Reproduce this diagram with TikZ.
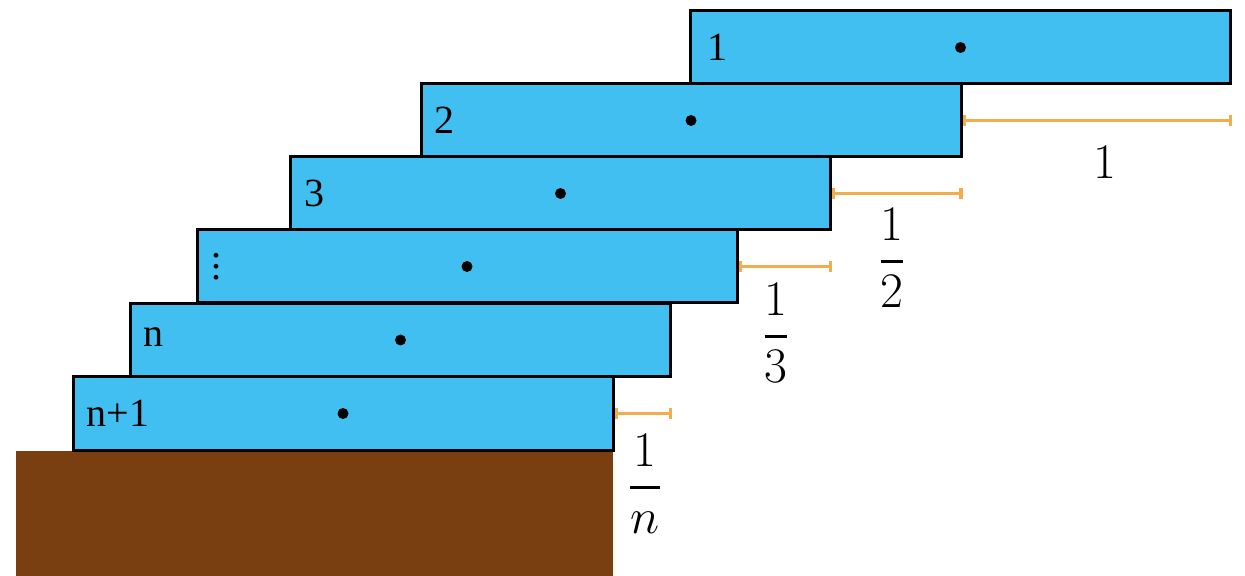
\documentclass[tikz,border=0pt]{standalone}
\usepackage{amsmath}
\usepackage{fontspec}
\setmainfont{Liberation Serif}
\usetikzlibrary{positioning, arrows.meta}
\definecolor{blockblue}{HTML}{41BFF0}
\definecolor{gapgold}{HTML}{F2AE4E}
\definecolor{soilbrown}{HTML}{7A3F10}
\newcommand{\thickfrac}[2]{\genfrac{}{}{1.8pt}{0}{#1}{#2}}
\newcommand{\stackdots}{\vbox{\baselineskip5.5pt\lineskiplimit0pt
  \hbox{.}\hbox{.}\hbox{.}}}

\begin{document}
\begin{tikzpicture}[x=0.5pt, y=-0.5pt, font=\fontsize{20}{24}\selectfont,
  plank/.style={rectangle, draw=black, line width=1.5pt, fill=blockblue,
                minimum width=270pt, minimum height=36.5pt, inner sep=0pt},
  cog/.style={circle, fill=black, inner sep=0pt, minimum size=5.5pt},
  num/.style={anchor=west, inner sep=0pt},
  overhang/.style={draw=gapgold, line width=1.6pt,
                   {Bar[width=5.5pt]}-{Bar[width=5.5pt]}},
  frac/.style={font=\fontsize{26}{30}\selectfont, inner sep=0pt}]
  \useasboundingbox (0,0) rectangle (1245,576);

  % table top
  \fill[soilbrown] (16,451) rectangle (613,576);

  % the stack, top block first
  \node[plank] (b1) at (960.5,47.5) {};
  \node[plank] (b2) at (691,120.5) {};
  \node[plank] (b3) at (560.5,193.5) {};
  \node[plank] (bd) at (467,266.5) {};
  \node[plank] (bn) at (400.5,340) {};
  \node[plank] (bn1) at (343,413.5) {};

  % centres of mass
  \node[cog] (c1) at (b1.center) {};
  \node[cog] (c2) at (b2.center) {};
  \node[cog] (c3) at (b3.center) {};
  \node[cog] (cd) at (bd.center) {};
  \node[cog] (cn) at (bn.center) {};
  \node[cog] (cn1) at (bn1.center) {};

  % block numbers
  \node[num, right=9pt of b1.west] (t1) {1};
  \node[num, right=7.5pt of b2.west] (t2) {2};
  \node[num, right=7.5pt of b3.west] (t3) {3};
  \node[num, right=8pt of bd.west] (td) {\stackdots};
  \node[num, right=7pt of bn.west, yshift=1.5pt] (tn) {n};
  \node[num, right=7.5pt of bn1.west] (tn1) {n+1};

  % overhangs
  \draw[overhang] (b2.east) -- (b2.east -| b1.east);
  \draw[overhang] (b3.east) -- (b3.east -| b2.east);
  \draw[overhang] (bd.east) -- (bd.east -| b3.east);
  \draw[overhang] (bn1.east) -- (bn1.east -| bn.east);

  \node[frac] (f1) at (1105,162) {$1$};
  \node[frac] (f2) at (892,258) {$\thickfrac{1}{2}$};
  \node[frac] (f3) at (776,333) {$\thickfrac{1}{3}$};
  \node[frac] (fn) at (645,484) {$\thickfrac{1}{n}$};
\end{tikzpicture}
\end{document}
